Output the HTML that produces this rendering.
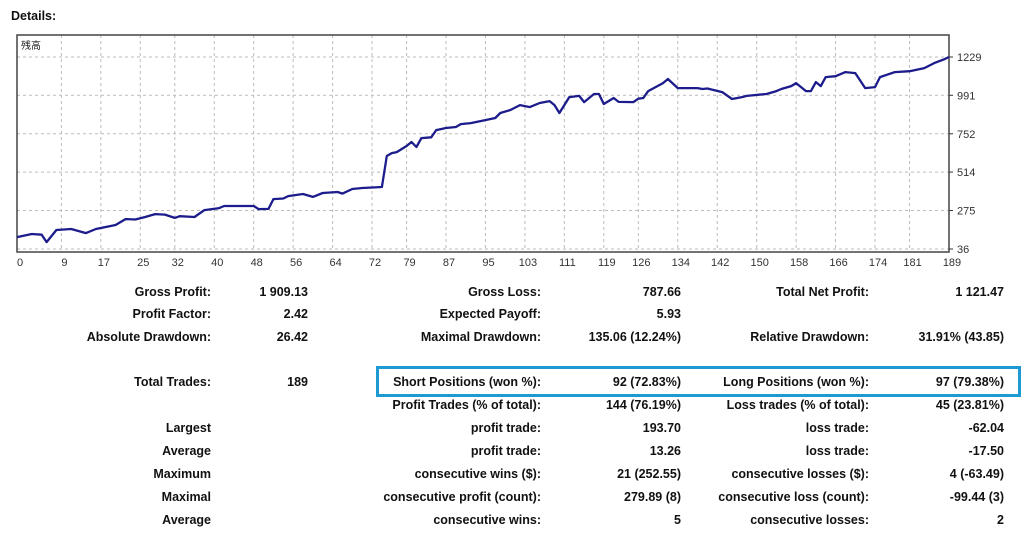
<!DOCTYPE html>
<html><head><meta charset="utf-8">
<style>
html,body{margin:0;padding:0;background:#fff;}
body{width:1024px;height:544px;position:relative;overflow:hidden;font-family:"Liberation Sans","Noto Sans CJK JP",sans-serif;}
.t{position:absolute;font-weight:bold;font-size:12.5px;color:#111;white-space:nowrap;line-height:14px;}
.r{transform:translateX(-100%);}
</style></head><body>
<div class="t" style="left:11px;top:9px;">Details:</div>
<svg id="chart" width="1024" height="275" style="position:absolute;left:0;top:0;"></svg>
<div id="table"></div>
<div style="position:absolute;left:376px;top:366px;width:639px;height:25px;border:3px solid #1e9ad2;"></div>
<script>
const trades=[0,3,5,6,8,11,14,16,20,22,24,26,28,30,32,33,36,38,41,42,48,49,51,52,54,55,58,60,62,65,66,68,70,74,75,76,77,79,80,81,82,84,85,87,89,90,92,94,97,98,100,102,104,106,108,109,110,112,114,115,117,118,119,121,122,125,126,127,128,131,132,134,138,139,140,143,145,147,148,152,154,155,157,158,160,161,162,163,164,166,168,170,172,174,175,178,181,184,186,188,189];
const balance=[110,129,125,79,154,160,135,160,185,222,219,235,253,250,229,240,235,278,290,303,303,284,285,346,350,365,378,360,384,390,380,409,415,421,614,632,638,676,701,670,725,730,775,788,794,812,818,831,850,881,899,930,918,943,955,930,881,980,987,949,999,999,937,974,950,949,970,974,1017,1067,1092,1036,1036,1030,1033,1011,968,980,987,999,1017,1030,1048,1067,1017,1017,1073,1048,1104,1110,1135,1129,1036,1042,1104,1135,1141,1160,1191,1215,1229];
const yTicks=[36,275,514,752,991,1229];
const xTicks=[0,9,17,25,32,40,48,56,64,72,79,87,95,103,111,119,126,134,142,150,158,166,174,181,189];
const L=17,R=949,T=35,B=252;
const sx=i=>L+(i/189)*(R-L);
const sy=v=>249-(v-36)*(192/1193);
const svg=document.getElementById('chart');const NS='http://www.w3.org/2000/svg';
function mk(tag,attrs){const e=document.createElementNS(NS,tag);for(const k in attrs)e.setAttribute(k,attrs[k]);svg.appendChild(e);return e;}
yTicks.forEach(v=>{const g=mk('line',{x1:L,x2:R,y1:sy(v),y2:sy(v),stroke:'#bbb','stroke-dasharray':'3,3'});

const t=mk('text',{x:R+8,y:sy(v)+4,'font-size':'11','fill':'#333','font-family':'Liberation Sans, sans-serif'});t.textContent=v;

mk('line',{x1:R,x2:R+4,y1:sy(v),y2:sy(v),stroke:'#333'});});
xTicks.forEach(v=>{const g=mk('line',{x1:sx(v),x2:sx(v),y1:T,y2:B,stroke:'#bbb','stroke-dasharray':'3,3'});

const t=mk('text',{x:sx(v)+3,y:266,'font-size':'11','fill':'#333','text-anchor':'middle','font-family':'Liberation Sans, sans-serif'});t.textContent=v;
});
const fr=mk('rect',{x:L,y:T,width:R-L,height:B-T,fill:'none',stroke:'#444','stroke-width':'1.5'});

const tt=mk('text',{x:21,y:49,'font-size':'10','fill':'#222','font-family':'Noto Sans CJK JP, sans-serif'});tt.textContent='残高';

const pts=trades.map((t,i)=>sx(t).toFixed(1)+','+sy(balance[i]).toFixed(1)).join(' ');
const ln=mk('polyline',{points:pts,fill:'none',stroke:'#1c1c8c','stroke-width':'2.3','stroke-linejoin':'round'});


const rows=[292,314,337,382,405,428,451,474,497,520];
const cols=[211,308,541,681,869,1004];
const cells=[
["Gross Profit:","1 909.13","Gross Loss:","787.66","Total Net Profit:","1 121.47"],
["Profit Factor:","2.42","Expected Payoff:","5.93","",""],
["Absolute Drawdown:","26.42","Maximal Drawdown:","135.06 (12.24%)","Relative Drawdown:","31.91% (43.85)"],
["Total Trades:","189","Short Positions (won %):","92 (72.83%)","Long Positions (won %):","97 (79.38%)"],
["","","Profit Trades (% of total):","144 (76.19%)","Loss trades (% of total):","45 (23.81%)"],
["Largest","","profit trade:","193.70","loss trade:","-62.04"],
["Average","","profit trade:","13.26","loss trade:","-17.50"],
["Maximum","","consecutive wins ($):","21 (252.55)","consecutive losses ($):","4 (-63.49)"],
["Maximal","","consecutive profit (count):","279.89 (8)","consecutive loss (count):","-99.44 (3)"],
["Average","","consecutive wins:","5","consecutive losses:","2"]];
const tb=document.getElementById('table');
cells.forEach((row,ri)=>row.forEach((txt,ci)=>{if(!txt)return;const d=document.createElement('div');
d.className='t r';d.style.left=cols[ci]+'px';d.style.top=(rows[ri]-7)+'px';d.textContent=txt;

tb.appendChild(d);}));
</script>
</body></html>
